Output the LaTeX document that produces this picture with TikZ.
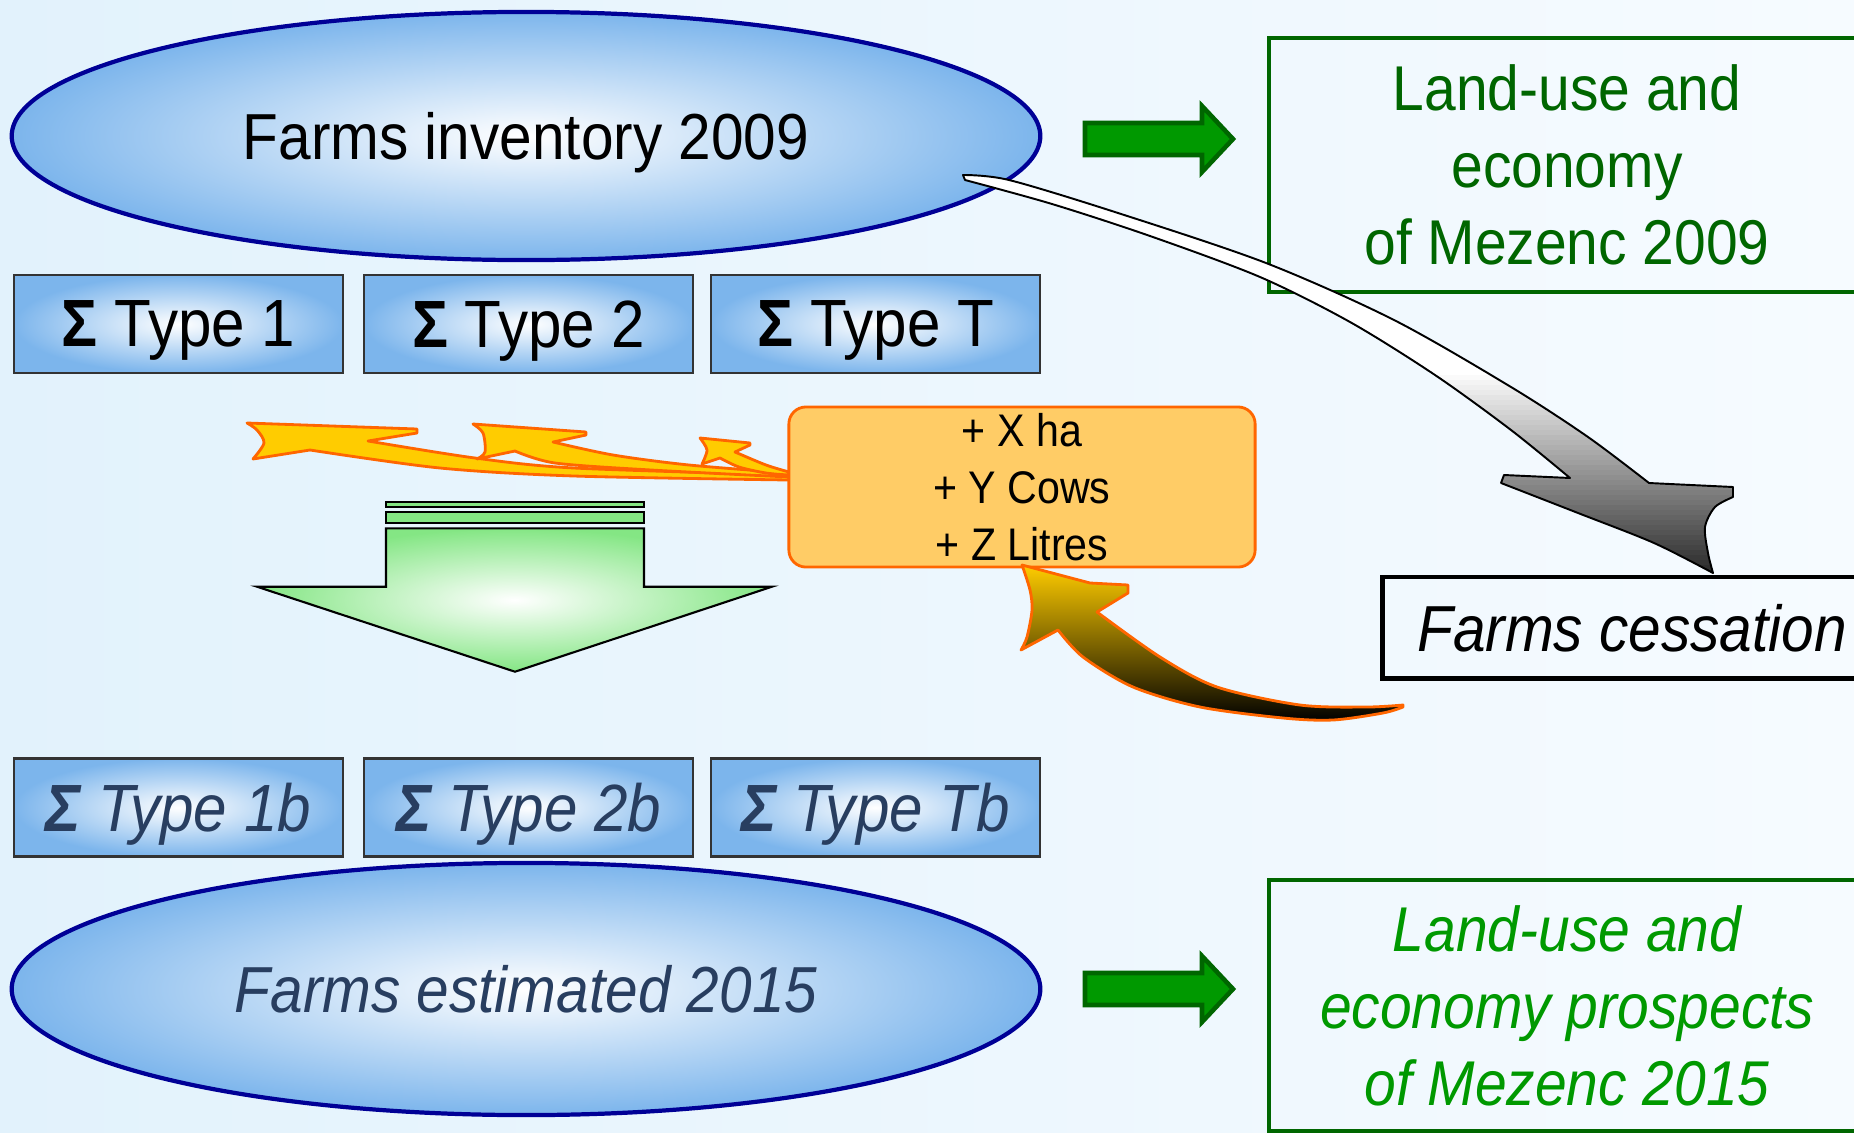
\documentclass[tikz,border=0pt]{standalone}
\usepackage{fontspec}
\setmainfont[FakeStretch=0.9]{Liberation Sans}
\usepackage{xcolor}
\usetikzlibrary{positioning,shapes.geometric}

\definecolor{skyedge}{RGB}{124,181,236}
\definecolor{navyline}{RGB}{0,0,150}
\definecolor{slate}{RGB}{40,62,96}
\definecolor{darkgreen}{RGB}{0,102,0}
\definecolor{leafgreen}{RGB}{0,153,0}
\definecolor{mintgreen}{RGB}{132,230,132}
\definecolor{ambre}{RGB}{255,204,102}
\definecolor{flame}{RGB}{255,102,0}
\definecolor{gold}{RGB}{255,204,0}
\definecolor{bgleft}{RGB}{226,242,252}
\definecolor{bgright}{RGB}{246,251,255}

\begin{document}
\begin{tikzpicture}[x=0.01cm,y=-0.01cm,
  farm/.style={ellipse,draw=navyline,line width=1.2pt,inner color=white,outer color=skyedge,minimum width=10.28cm,minimum height=2.48cm,inner sep=0pt,text depth=0pt,font=\fontsize{18.5}{22}\selectfont},
  typebox/.style={draw=black!80,line width=0.6pt,inner color=white,outer color=skyedge,minimum width=3.29cm,minimum height=0.98cm,inner sep=0pt,text depth=0pt,font=\fontsize{19}{22}\selectfont},
  typeb/.style={typebox,text=slate,font=\fontsize{19}{22}\selectfont\itshape},
  areabox/.style={draw=darkgreen,line width=1.3pt,align=center,inner sep=0pt,minimum width=5.96cm,font=\fontsize{18}{21.9}\selectfont},
  greenarr/.style={fill=leafgreen,draw=darkgreen,line width=1.3pt},
  orangearr/.style={fill=gold,draw=flame,line width=0.8pt,line join=round}]
\useasboundingbox (0,0) rectangle (1854,1133);
\shade[left color=bgleft,right color=bgright] (0,0) rectangle (1854,1133);

\node[farm] (inv) at (526,136) {Farms inventory 2009};
\node[typebox] (t1) at (178.5,324) {\textbf{Σ} Type 1};
\node[typebox,right=0.19cm of t1] (t2) {\textbf{Σ} Type 2};
\node[typebox,right=0.155cm of t2] (tT) {\textbf{Σ} Type T};

\node[typeb] (t1b) at (178.5,807.5) {\textbf{Σ} Type 1b};
\node[typeb,right=0.19cm of t1b] (t2b) {\textbf{Σ} Type 2b};
\node[typeb,right=0.155cm of t2b] (tTb) {\textbf{Σ} Type Tb};
\node[farm,text=slate,minimum height=2.52cm,font=\fontsize{18.5}{22}\selectfont\itshape] (est) at (526,989) {Farms estimated 2015};

\draw[greenarr] (1085,123) -- (1202,123) -- (1202,106) -- (1233,139) -- (1202,172) -- (1202,155) -- (1085,155) -- cycle;
\draw[greenarr] (1085,973) -- (1202,973) -- (1202,956) -- (1233,989) -- (1202,1022) -- (1202,1005) -- (1085,1005) -- cycle;

\node[areabox,text=darkgreen,minimum height=2.54cm] (land) at (1567,165) {Land-use and\\economy\\of Mezenc 2009};
\node[areabox,text=leafgreen,minimum height=2.51cm,font=\fontsize{18}{21.9}\selectfont\itshape] (prosp) at (1567,1005.5) {Land-use and\\economy prospects\\of Mezenc 2015};

\draw[fill=mintgreen,line width=0.6pt] (386,501.7) rectangle (644,507.3);
\draw[fill=mintgreen,line width=0.6pt] (386,512.3) rectangle (644,523.3);
\draw[inner color=white,outer color=mintgreen,line width=0.6pt] (386,528.3) -- (644,528.3) -- (644,586.7) -- (772,586.7) -- (515,671.7) -- (257,586.7) -- (386,586.7) -- cycle;

\draw[orangearr] (247,423) -- (417,429) -- (417,433) -- (368,441)
  -- plot[smooth] coordinates {(368,441) (475,458) (574,468) (789,475)}
  -- (789,480)
  -- plot[smooth] coordinates {(789,480) (574,476) (440,468) (310,450)}
  -- (253,459)
  -- plot[smooth] coordinates {(253,459) (264,443) (257,430) (247,423)} -- cycle;
\draw[orangearr] (473,424) -- (586,432) -- (586,435) -- (553,442)
  -- plot[smooth] coordinates {(553,442) (613,455) (689,465) (789,473)}
  -- (789,477)
  -- plot[smooth] coordinates {(789,477) (651,470) (555,463) (515,451)}
  -- (477,459)
  -- plot[smooth] coordinates {(477,459) (485,452) (483,433) (473,424)} -- cycle;
\draw[orangearr] (700,438) -- (750,443) -- (750,445) -- (735,452)
  -- plot[smooth] coordinates {(735,452) (766,465) (789,472)}
  -- (789,475)
  -- plot[smooth] coordinates {(789,475) (766,473) (739,467) (720,458)}
  -- (702,464)
  -- plot[smooth] coordinates {(702,464) (707,450) (700,438)} -- cycle;

\node[rounded corners=0.17cm,fill=ambre,draw=flame,line width=0.8pt,minimum width=4.66cm,minimum height=1.6cm,align=center,inner sep=0pt,font=\fontsize{13}{16.2}\selectfont] (gain) at (1022,487) {+ X ha\\+ Y Cows\\+ Z Litres};

\node[draw,line width=1.4pt,minimum width=4.98cm,minimum height=1.01cm,inner sep=0pt,text depth=0pt,font=\fontsize{18.5}{22}\selectfont\itshape] (cess) at (1632,627.5) {Farms cessation};

\draw[draw=flame,line width=0.8pt,line join=round,top color=gold,bottom color=black]
  (1022,565) -- plot[smooth] coordinates {(1022,565) (1030,590) (1032,610) (1027,637) (1021,650)}
  -- (1058,630)
  -- plot[smooth] coordinates {(1058,630) (1083,657) (1133,687) (1200,707) (1283,718) (1333,720) (1383,713) (1403,707)}
  -- (1403,705)
  -- plot[smooth] coordinates {(1403,705) (1367,707) (1300,705) (1217,687) (1160,657) (1097,612)}
  -- (1128,593) -- (1128,585) -- (1090,583) -- cycle;

\draw[line width=0.55pt,line join=round,fill=white,
  path picture={\foreach \i [evaluate=\i as \pct using 2.1*\i] in {0,...,42}
    \fill[black!\pct] (1380,370+5*\i) rectangle (1760,376+5*\i);}]
  (963,175) -- plot[smooth] coordinates {(963,175) (1009,180) (1118,213) (1266,263) (1394,320) (1511,387) (1588,437) (1649,483)}
  -- (1733,487) -- (1733,497)
  -- plot[smooth] coordinates {(1733,497) (1715,507) (1705,527) (1708,553) (1713,573)}
  -- plot[smooth] coordinates {(1713,573) (1654,543) (1578,513) (1501,483)}
  -- (1504,475) -- (1570,478)
  -- plot[smooth] coordinates {(1570,478) (1511,430) (1435,375) (1350,322) (1260,277) (1150,236) (1052,204) (965,180)}
  -- cycle;
\end{tikzpicture}
\end{document}
